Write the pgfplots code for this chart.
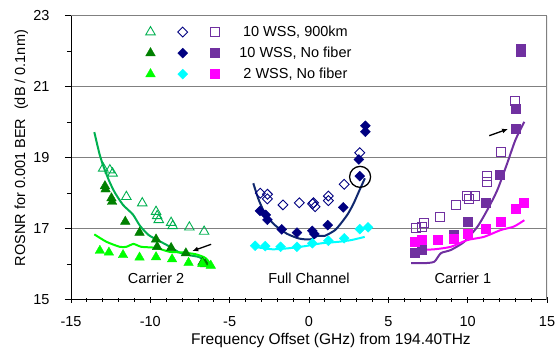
\documentclass[border=0pt]{standalone}
\usepackage{fontspec}
\setmainfont{Liberation Sans}
\usepackage{pgfplots}
\pgfplotsset{compat=1.18}
\usetikzlibrary{arrows.meta,calc}
\definecolor{medgreen}{RGB}{0,176,80}
\definecolor{dkgreen}{RGB}{0,128,0}
\definecolor{brgreen}{RGB}{0,255,0}
\definecolor{navyc}{RGB}{0,0,128}
\definecolor{navyline}{RGB}{16,40,110}
\definecolor{cyanc}{RGB}{0,255,255}
\definecolor{purplec}{RGB}{112,48,160}
\definecolor{magc}{RGB}{255,0,255}
\definecolor{gridgray}{RGB}{128,128,128}
\pgfplotsset{
  myleg/.style={legend image code/.code={\draw[##1] plot coordinates {(0pt,0pt)};}},
  tri/.style={mark=triangle, mark size=5.5pt},
  trif/.style={mark=triangle*, mark size=5.5pt},
  dia/.style={mark=square, mark size=3.5pt, mark options={rotate=45}},
  diaf/.style={mark=square*, mark size=3.5pt, mark options={rotate=45}},
  sq/.style={mark=square, mark size=4.5pt},
  sqf/.style={mark=square*, mark size=4.5pt},
}
\begin{document}
\begin{tikzpicture}
\begin{axis}[
  name=ax,
  width=476pt, height=284pt, scale only axis,
  xmin=-15, xmax=15, ymin=15, ymax=23,
  enlargelimits=false,
  axis lines=left,
  axis line style={-, black, line width=1pt},
  xtick={-15,-10,-5,0,5,10,15},
  ytick={15,17,19,21,23},
  minor xtick={-14,-13,...,14},
  minor ytick={16,18,20,22},
  tick style={black, line width=0.8pt},
  major tick length=6pt, minor tick length=4pt,
  xtick align=center, ytick align=outside,
  ymajorgrids, grid style={gridgray, line width=1.3pt},
  /pgf/number format/assume math mode=true,
  every axis/.append style={font=\fontsize{14.5}{17}\selectfont},
  xticklabel style={font=\fontsize{14.5}{17}\selectfont, yshift=-10pt},
  yticklabel style={font=\fontsize{14.5}{17}\selectfont, xshift=-12pt},
  xlabel={Frequency Offset (GHz) from 194.40THz},
  ylabel={ROSNR for 0.001 BER\hspace{0.6em}(dB / 0.1nm)},
  xlabel style={at={(rel axis cs:0.546,-0.145)}, anchor=center, font=\fontsize{15.5}{18}\selectfont},
  ylabel style={at={(rel axis cs:-0.104,0.534)}, anchor=center, font=\fontsize{14.5}{17}\selectfont},
  legend columns=4,
  legend style={draw=none, fill=none, inner sep=0pt, outer sep=0pt,
    at={(rel axis cs:0.157,0.967)}, anchor=north west,
    column sep=10.75pt, row sep=7pt,
    nodes={inner sep=0pt, text height=11pt, text depth=3pt},
    font=\fontsize{14.5}{17}\selectfont},
]
% ---------- legend ----------
\addlegendimage{only marks, tri, color=medgreen, line width=0.9pt, myleg}\addlegendentry{}
\addlegendimage{only marks, dia, color=navyc, line width=0.9pt, myleg}\addlegendentry{}
\addlegendimage{only marks, sq, color=purplec, line width=0.9pt, myleg}\addlegendentry{}
\addlegendimage{empty legend}\addlegendentry{\hspace{-13pt}10 WSS, 900km}
\addlegendimage{only marks, trif, color=dkgreen, myleg}\addlegendentry{}
\addlegendimage{only marks, diaf, color=navyc, myleg}\addlegendentry{}
\addlegendimage{only marks, sqf, color=purplec, myleg}\addlegendentry{}
\addlegendimage{empty legend}\addlegendentry{\hspace{-13pt}10 WSS, No fiber}
\addlegendimage{only marks, trif, color=brgreen, myleg}\addlegendentry{}
\addlegendimage{only marks, diaf, color=cyanc, myleg}\addlegendentry{}
\addlegendimage{only marks, sqf, color=magc, myleg}\addlegendentry{}
\addlegendimage{empty legend}\addlegendentry{\hspace{-13pt}2 WSS, No fiber}

% ---------- lines ----------
\addplot[forget plot, medgreen, line width=2pt, smooth, tension=0.4, no marks] coordinates {
(-13.53,19.72) (-13.2,19.1) (-12.95,18.75) (-12.6,18.35) (-12.24,18.02) (-11.72,17.67) (-11.1,17.40) (-10.65,17.08) (-10.1,16.82) (-9.42,16.65) (-8.8,16.50) (-8.17,16.33) (-7.5,16.25) (-6.93,16.20) (-6.30,16.03)};
\addplot[forget plot, brgreen, line width=2pt, smooth, tension=0.4, no marks] coordinates {
(-13.53,16.84) (-12.76,16.63) (-11.93,16.49) (-11.51,16.49) (-11.06,16.57) (-10.57,16.49) (-9.64,16.46) (-8.80,16.35) (-7.97,16.33) (-7.14,16.28) (-6.51,16.17) (-6.10,15.93)};
\addplot[forget plot, navyline, line width=2pt, smooth, tension=0.4, no marks] coordinates {
(-3.51,18.28) (-3.2,17.85) (-2.8,17.45) (-2.2,17.12) (-1.4,16.86) (-0.6,16.72) (0.1,16.70) (0.55,16.80) (1.0,16.80) (1.64,16.96) (2.1,17.2) (2.47,17.43) (2.8,17.7) (3.10,18.0) (3.52,18.42)};
\addplot[forget plot, cyanc, line width=2pt, smooth, tension=0.4, no marks] coordinates {
(-3.45,16.49) (-2.31,16.42) (-1.27,16.45) (-0.23,16.51) (0.80,16.59) (1.85,16.63) (2.67,16.68) (3.51,16.77)};
\addplot[forget plot, purplec, line width=2pt, smooth, tension=0.4, no marks] coordinates {
(6.44,16.03) (7.28,16.03) (7.90,16.07) (8.31,16.31) (8.94,16.40) (9.78,16.63) (10.62,17.06) (11.24,17.53) (11.87,18.09) (12.49,18.84) (13.01,19.50) (13.57,20.01)};
\addplot[forget plot, magc, line width=2pt, smooth, tension=0.4, no marks] coordinates {
(6.86,16.40) (7.90,16.42) (8.94,16.49) (9.98,16.68) (11.03,16.77) (12.07,16.96) (12.91,17.06) (13.57,17.24)};

% ---------- Carrier 2 ----------
\addplot[forget plot, only marks, tri, color=medgreen, line width=0.9pt] coordinates {
(-12.97,18.70) (-12.55,18.65) (-12.38,18.56) (-11.51,17.90) (-10.51,17.72) (-9.64,17.48) (-9.57,17.36) (-9.47,17.25) (-8.69,17.17) (-8.59,17.08) (-7.54,17.04) (-6.61,16.92)};
\addplot[forget plot, only marks, trif, color=dkgreen] coordinates {
(-12.86,18.20) (-12.82,18.11) (-12.45,17.86) (-12.41,17.76) (-11.58,17.20) (-10.68,16.89) (-9.64,16.70) (-9.57,16.49) (-8.69,16.46) (-7.76,16.31) (-6.72,16.05) (-6.55,16.00)};
\addplot[forget plot, only marks, trif, color=brgreen] coordinates {
(-13.18,16.38) (-12.61,16.33) (-11.72,16.26) (-10.68,16.19) (-9.64,16.20) (-8.63,16.14) (-7.59,16.04) (-6.72,16.01) (-6.19,15.96)};

% ---------- Full channel ----------
\addplot[forget plot, only marks, dia, color=navyc, line width=0.9pt] coordinates {
(-3.07,18.00) (-2.62,17.97) (-2.62,17.84) (-1.64,17.67) (-0.61,17.73) (0.28,17.73) (0.38,17.62) (0.23,17.70) (1.22,17.92) (1.22,17.79) (2.22,18.25) (3.20,19.14)};
\addplot[forget plot, only marks, diaf, color=navyc] coordinates {
(-3.09,17.50) (-2.72,17.39) (-2.62,17.25) (-1.72,16.98) (-0.76,16.89) (0.21,16.94) (0.34,16.85) (1.18,17.10) (2.16,17.60) (3.14,18.95) (3.20,18.48) (3.55,19.73) (3.55,19.90)};
\addplot[forget plot, only marks, diaf, color=cyanc] coordinates {
(-3.39,16.52) (-2.76,16.51) (-1.79,16.49) (-0.76,16.49) (0.21,16.59) (1.22,16.66) (2.22,16.73) (3.20,16.99) (3.72,17.04)};

% ---------- Carrier 1 ----------
\addplot[forget plot, only marks, sq, color=purplec, line width=0.9pt] coordinates {
(6.71,17.01) (7.12,17.06) (7.23,17.17) (8.27,17.34) (9.26,17.67) (9.98,17.92) (10.09,17.83) (10.44,17.92) (11.20,18.48) (11.20,18.32) (12.07,19.17) (13.01,20.60)};
\addplot[forget plot, only marks, sqf, color=purplec] coordinates {
(6.65,16.32) (7.12,16.40) (9.15,16.82) (10.02,17.20) (11.13,17.72) (12.01,18.51) (13.01,19.83) (13.01,20.39) (13.32,21.99) (13.32,22.07)};
\addplot[forget plot, only marks, sqf, color=magc] coordinates {
(6.65,16.63) (7.12,16.68) (8.11,16.68) (9.15,16.73) (10.02,16.87) (11.13,17.01) (12.07,17.20) (13.01,17.57) (13.54,17.72)};

% ---------- annotations ----------
\addplot[forget plot, only marks, mark=o, mark size=10.5pt, mark options={black, line width=1.3pt}] coordinates {(3.22,18.46)};
\draw[-{Latex[length=6pt,width=5pt]}, line width=1.3pt] (axis cs:-6.17,16.56) -- (axis cs:-7.36,16.37);
\draw[-{Latex[length=6pt,width=5pt]}, line width=1.3pt] (axis cs:11.36,19.62) -- (axis cs:12.55,19.81);
\draw[gridgray, line width=1.3pt] (rel axis cs:1,0) -- (rel axis cs:1,1);
\node[font=\fontsize{14.5}{17}\selectfont] at (axis cs:-9.64,15.6) {Carrier 2};
\node[font=\fontsize{14.5}{17}\selectfont] at (axis cs:0.0,15.6) {Full Channel};
\node[font=\fontsize{14.5}{17}\selectfont] at (axis cs:9.7,15.6) {Carrier 1};
\end{axis}
\pgfresetboundingbox
\path[use as bounding box] ($(ax.south west)+(-71pt,-49.3pt)$) rectangle ($(ax.north east)+(8pt,15.7pt)$);
\end{tikzpicture}
\end{document}
